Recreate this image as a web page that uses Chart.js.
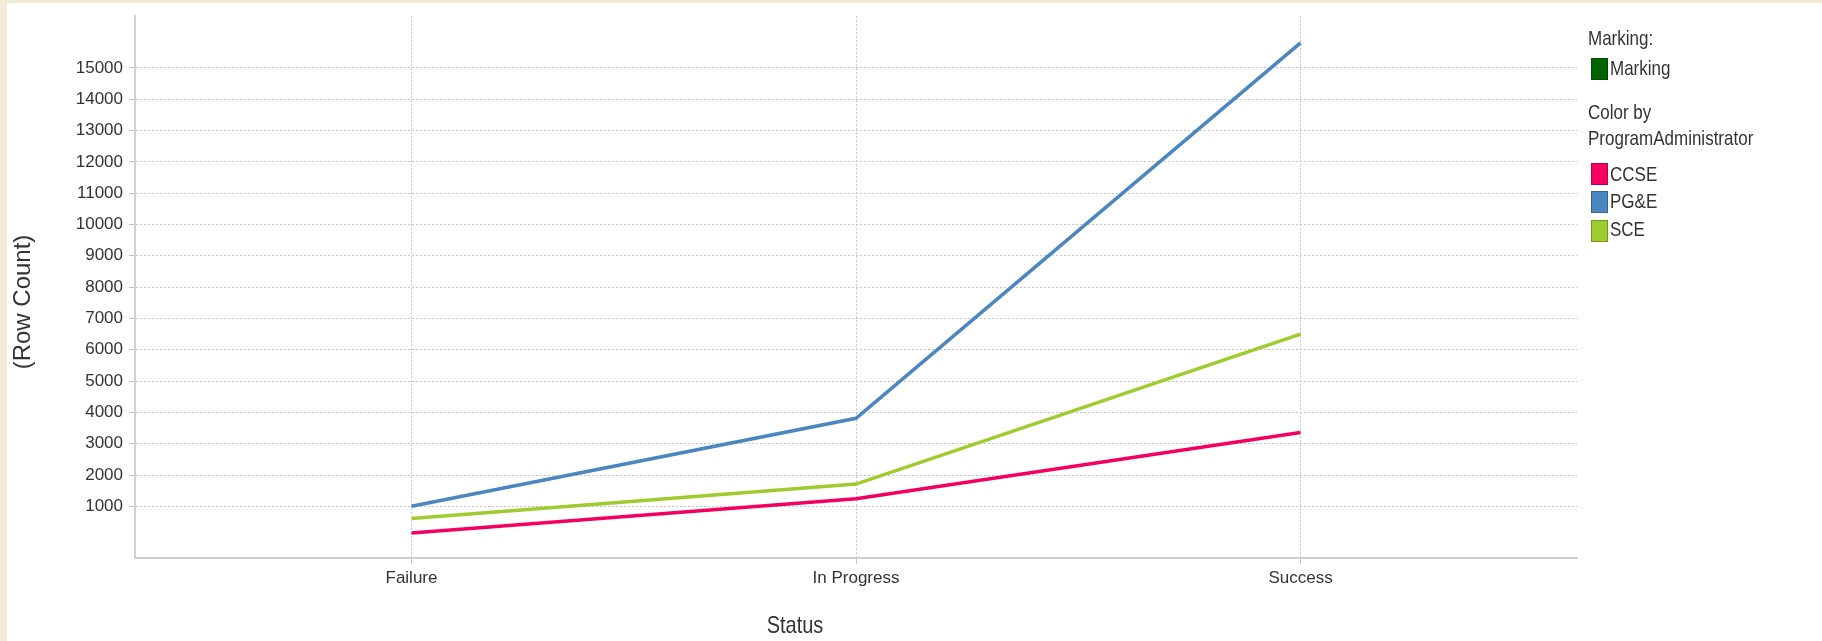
<!DOCTYPE html>
<html>
<head>
<meta charset="utf-8">
<title>Row Count by Status</title>
<script src="https://cdn.jsdelivr.net/npm/chart.js@4/dist/chart.umd.min.js"></script>
<style>
  html, body { margin: 0; padding: 0; background: #ffffff; }
  body { width: 1822px; height: 641px; position: relative; overflow: hidden; }
  #chart { position: absolute; left: 0; top: 0; }
  .frame { position: absolute; background: #f2ebd6; }
  .legend-text {
    position: absolute; height: 24px; line-height: 24px; white-space: nowrap;
    font-family: 'Liberation Sans', Arial, sans-serif;
    font-size: 17px; color: #333333;
    transform: scaleY(1.18); transform-origin: left center;
  }
  .swatch { position: absolute; width: 15px; height: 20px; border: 1px solid rgba(0,0,0,0.25); }
</style>
</head>
<body>
<canvas id="chart" width="1822" height="641"></canvas>
<div class="frame" style="left:0;top:0;width:1822px;height:3px;"></div>
<div class="frame" style="left:0;top:0;width:7px;height:641px;"></div>

<div id="legend"></div>

<script>
// Status categories along the x axis
const categories = ['Failure', 'In Progress', 'Success'];

// Row counts per program administrator
const ccseCounts = [150, 1240, 3360];
const pgeCounts = [1000, 3810, 15800];
const sceCounts = [610, 1710, 6500];

// Labelled y-axis ticks
const yTickValues = [1000, 2000, 3000, 4000, 5000, 6000, 7000, 8000, 9000, 10000, 11000, 12000, 13000, 14000, 15000];

// Legend entries
const seriesNames = ['CCSE', 'PG&E', 'SCE'];
const seriesColors = ['#f5005f', '#4a86bf', '#9ecb2d'];
const markingName = 'Marking';
const markingColor = '#006400';

const FONT = "'Liberation Sans', Arial, sans-serif";
const TEXT = '#333333';
const GRID = '#c4c4c4';
const AXIS = '#d0d0d0';

const toPoints = arr => arr.map((v, i) => ({ x: i, y: v }));

const seriesData = [ccseCounts, pgeCounts, sceCounts];
const datasets = seriesNames.map((name, i) => ({
  label: name,
  data: toPoints(seriesData[i]),
  borderColor: seriesColors[i],
  backgroundColor: seriesColors[i],
  borderWidth: 3.5,
  pointRadius: 0,
  tension: 0,
  fill: false
}));

// Axis titles drawn on the canvas
const axisTitles = {
  id: 'axisTitles',
  afterDraw(chart) {
    const ctx = chart.ctx;
    ctx.save();
    ctx.fillStyle = TEXT;
    ctx.textAlign = 'center';
    ctx.textBaseline = 'middle';
    ctx.font = '24px ' + FONT;
    ctx.translate(23, 302);
    ctx.rotate(-Math.PI / 2);
    ctx.fillText('(Row Count)', 0, 0);
    ctx.restore();

    ctx.save();
    ctx.fillStyle = TEXT;
    ctx.textAlign = 'center';
    ctx.textBaseline = 'middle';
    ctx.translate(795, 626);
    ctx.scale(1, 1.2);
    ctx.font = '20px ' + FONT;
    ctx.fillText('Status', 0, 0);
    ctx.restore();
  }
};

new Chart(document.getElementById('chart'), {
  type: 'line',
  data: { datasets },
  options: {
    responsive: false,
    animation: false,
    devicePixelRatio: 1,
    layout: { padding: { left: 0, top: 13, right: 245, bottom: 0 } },
    plugins: { legend: { display: false }, tooltip: { enabled: false } },
    scales: {
      x: {
        type: 'linear',
        min: -0.622,
        max: 2.622,
        afterBuildTicks: s => { s.ticks = categories.map((c, i) => ({ value: i })); },
        afterFit: s => { s.height = 83; },
        ticks: {
          callback: v => categories[v],
          color: TEXT,
          font: { family: FONT, size: 17 },
          padding: 4,
          maxRotation: 0,
          autoSkip: false
        },
        grid: { color: GRID, lineWidth: 1, tickLength: 6, tickColor: GRID, drawTicks: true },
        border: { color: AXIS, width: 2, dash: [2, 2] }
      },
      y: {
        type: 'linear',
        min: -650,
        max: 16650,
        afterBuildTicks: s => { s.ticks = yTickValues.map(v => ({ value: v })); },
        afterFit: s => { s.width = 135; },
        ticks: {
          color: TEXT,
          font: { family: FONT, size: 17 },
          padding: 6,
          autoSkip: false,
          callback: v => String(v)
        },
        grid: { color: GRID, lineWidth: 1, tickLength: 6, tickColor: GRID, drawTicks: true },
        border: { color: AXIS, width: 2, dash: [2, 2] }
      }
    }
  },
  plugins: [axisTitles]
});

// Legend panel
(function buildLegend() {
  const host = document.getElementById('legend');
  const addText = (txt, x, top) => {
    const d = document.createElement('div');
    d.className = 'legend-text';
    d.style.left = x + 'px';
    d.style.top = top + 'px';
    d.textContent = txt;
    host.appendChild(d);
  };
  const addSwatch = (color, top) => {
    const d = document.createElement('div');
    d.className = 'swatch';
    d.style.left = '1591px';
    d.style.top = top + 'px';
    d.style.background = color;
    host.appendChild(d);
  };
  addText('Marking:', 1588, 27);
  addSwatch(markingColor, 58);
  addText(markingName, 1610, 57);
  addText('Color by', 1588, 101);
  addText('ProgramAdministrator', 1588, 127);
  const swatchTops = [163, 191, 220];
  const textTops = [163, 190, 218];
  seriesNames.forEach((n, i) => {
    addSwatch(seriesColors[i], swatchTops[i]);
    addText(n, 1610, textTops[i]);
  });
})();
</script>
</body>
</html>
